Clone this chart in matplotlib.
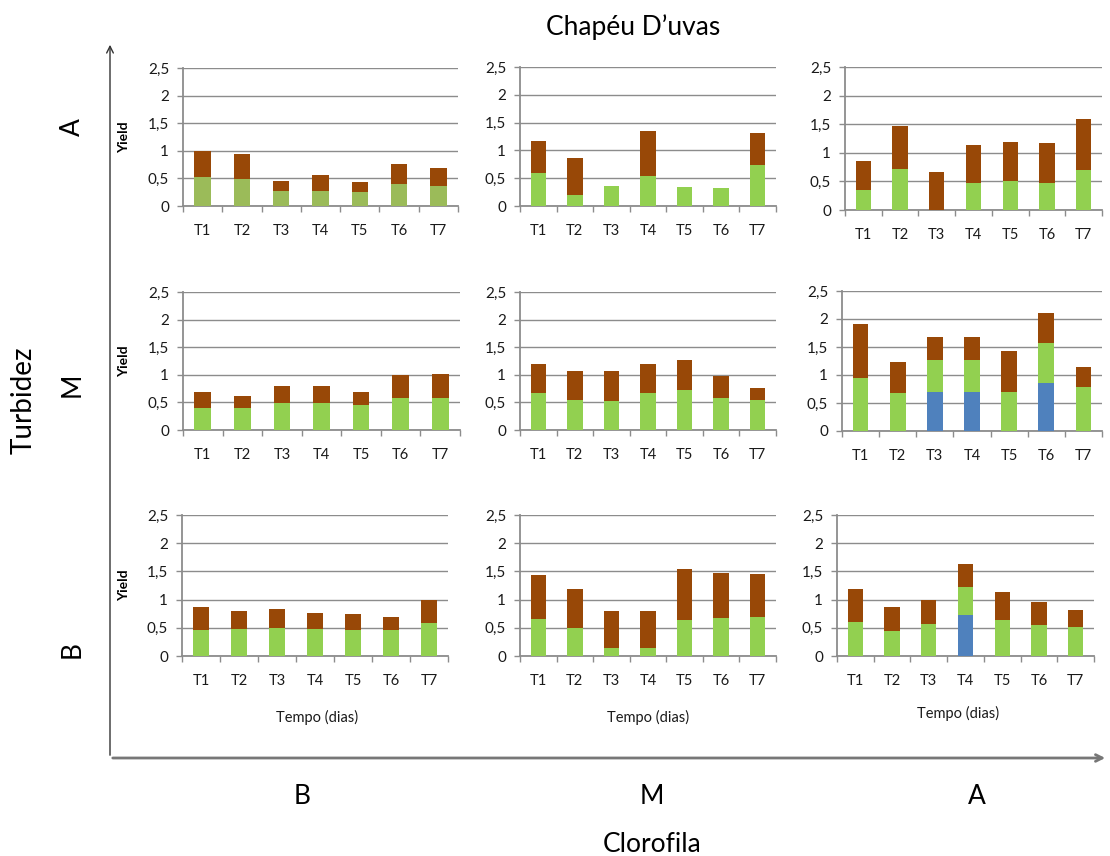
import matplotlib
matplotlib.use("Agg")
import matplotlib.pyplot as plt
import numpy as np

plt.rcParams['font.family'] = ['Lato', 'DejaVu Sans']

categories = ["T1", "T2", "T3", "T4", "T5", "T6", "T7"]
ytick_values = [0, 0.5, 1, 1.5, 2, 2.5]
ytick_labels = ["0", "0,5", "1", "1,5", "2", "2,5"]
row_labels = ["A", "M", "B"]        # Turbidez
col_labels = ["B", "M", "A"]        # Clorofila

# segment heights per panel: (row, col) -> blue, green, brown
# Row A (top)
blue_A_B = [0, 0, 0, 0, 0, 0, 0]
green_A_B = [0.53, 0.49, 0.27, 0.27, 0.25, 0.40, 0.37]
brown_A_B = [0.47, 0.45, 0.18, 0.29, 0.18, 0.36, 0.32]

blue_A_M = [0, 0, 0, 0, 0, 0, 0]
green_A_M = [0.60, 0.20, 0.36, 0.54, 0.34, 0.32, 0.74]
brown_A_M = [0.57, 0.66, 0.0, 0.81, 0.0, 0.0, 0.57]

blue_A_A = [0, 0, 0, 0, 0, 0, 0]
green_A_A = [0.35, 0.72, 0.0, 0.47, 0.51, 0.47, 0.70]
brown_A_A = [0.51, 0.75, 0.67, 0.67, 0.68, 0.70, 0.89]

# Row M (middle)
blue_M_B = [0, 0, 0, 0, 0, 0, 0]
green_M_B = [0.40, 0.40, 0.49, 0.49, 0.45, 0.58, 0.58]
brown_M_B = [0.28, 0.21, 0.30, 0.30, 0.23, 0.41, 0.43]

blue_M_M = [0, 0, 0, 0, 0, 0, 0]
green_M_M = [0.67, 0.54, 0.52, 0.67, 0.72, 0.58, 0.54]
brown_M_M = [0.52, 0.52, 0.54, 0.52, 0.54, 0.39, 0.22]

blue_M_A = [0, 0, 0.69, 0.69, 0, 0.85, 0]
green_M_A = [0.95, 0.67, 0.57, 0.57, 0.70, 0.73, 0.79]
brown_M_A = [0.96, 0.57, 0.41, 0.41, 0.73, 0.52, 0.36]

# Row B (bottom)
blue_B_B = [0, 0, 0, 0, 0, 0, 0]
green_B_B = [0.46, 0.48, 0.50, 0.48, 0.46, 0.46, 0.59]
brown_B_B = [0.415, 0.31, 0.34, 0.29, 0.29, 0.24, 0.41]

blue_B_M = [0, 0, 0, 0, 0, 0, 0]
green_B_M = [0.66, 0.50, 0.14, 0.14, 0.64, 0.68, 0.70]
brown_B_M = [0.77, 0.68, 0.66, 0.66, 0.90, 0.80, 0.76]

blue_B_A = [0, 0, 0, 0.73, 0, 0, 0]
green_B_A = [0.61, 0.45, 0.57, 0.50, 0.64, 0.55, 0.52]
brown_B_A = [0.57, 0.425, 0.43, 0.395, 0.50, 0.41, 0.30]

panels = [
    [(blue_A_B, green_A_B, brown_A_B), (blue_A_M, green_A_M, brown_A_M), (blue_A_A, green_A_A, brown_A_A)],
    [(blue_M_B, green_M_B, brown_M_B), (blue_M_M, green_M_M, brown_M_M), (blue_M_A, green_M_A, brown_M_A)],
    [(blue_B_B, green_B_B, brown_B_B), (blue_B_M, green_B_M, brown_B_M), (blue_B_A, green_B_A, brown_B_A)],
]

W, H = 1110, 856
fig = plt.figure(figsize=(W / 100, H / 100), dpi=100)

# pixel boxes (left, top, right, bottom) for each panel
boxes = [
    [(183, 68, 458, 206), (520, 67, 776, 206), (845, 67, 1102, 210)],
    [(183, 292, 460, 430), (520, 292, 776, 430), (842, 291, 1102, 431)],
    [(182, 515, 448, 656), (520, 515, 776, 656), (837, 515, 1094, 656)],
]

BLUE = "#4F81BD"
GREEN = "#92D050"
OLIVE = "#9BBB59"
BROWN = "#984807"
GRID = "#8C8C8C"

x = np.arange(len(categories))
for r in range(3):
    for c in range(3):
        l, t, rr, b = boxes[r][c]
        ax = fig.add_axes([l / W, 1 - b / H, (rr - l) / W, (b - t) / H])
        blue, green, brown = panels[r][c]
        blue = np.array(blue); green = np.array(green); brown = np.array(brown)
        gcol = OLIVE if (r == 0 and c == 0) else GREEN
        wd = 0.42
        ax.bar(x, blue, wd, color=BLUE, zorder=3)
        ax.bar(x, green, wd, bottom=blue, color=gcol, zorder=3)
        ax.bar(x, brown, wd, bottom=blue + green, color=BROWN, zorder=3)
        ax.set_xlim(-0.5, len(categories) - 0.5)
        ax.set_ylim(0, 2.5)
        ax.set_yticks(ytick_values)
        ax.set_yticklabels(ytick_labels, fontsize=11, color="#1a1a1a")
        ax.yaxis.grid(True, color=GRID, linewidth=1.0, zorder=0)
        ax.set_axisbelow(True)
        ax.set_xticks(np.arange(-0.5, len(categories), 1.0))
        ax.set_xticklabels([])
        ax.set_xticks(x, minor=True)
        ax.set_xticklabels(categories, minor=True, fontsize=10.5, color="#1a1a1a")
        ax.tick_params(axis="x", which="minor", length=0, pad=13)
        ax.tick_params(axis="x", which="major", length=4, color=GRID, width=1)
        ax.tick_params(axis="y", length=4, color=GRID, width=1, pad=6)
        for s in ["top", "right"]:
            ax.spines[s].set_visible(False)
        for s in ["left", "bottom"]:
            ax.spines[s].set_color(GRID)
            ax.spines[s].set_linewidth(1.3)
        if c == 0:
            fig.text(124 / W, 1 - ((t + b) / 2) / H, "Yield", rotation=90,
                     fontsize=10, fontweight="bold", ha="center", va="center")
        if r == 2:
            tx = [317, 648, 958][c]
            ty = [717, 717, 713][c]
            fig.text(tx / W, 1 - ty / H, "Tempo (dias)", fontsize=10.5,
                     ha="center", va="center", color="#1a1a1a")

# big framing axes with arrows
fig.add_artist(matplotlib.patches.FancyArrowPatch(
    (110 / W, 1 - 758 / H), (110 / W, 1 - 42 / H), transform=fig.transFigure,
    arrowstyle="->", mutation_scale=12, color="#333333", linewidth=1.0))
fig.add_artist(matplotlib.patches.FancyArrowPatch(
    (110 / W, 1 - 758 / H), (1108 / W, 1 - 758 / H), transform=fig.transFigure,
    arrowstyle="->", mutation_scale=12, color="#777777", linewidth=2.0))

fig.text(633 / W, 1 - 27 / H, "Chapéu D’uvas", fontsize=19, ha="center", va="center")
fig.text(24 / W, 1 - 400 / H, "Turbidez", fontsize=20, rotation=90, ha="center", va="center")
for lab, yy in zip(row_labels, [127, 385, 650]):
    fig.text(72 / W, 1 - yy / H, lab, fontsize=19, rotation=90, ha="center", va="center")
for lab, xx in zip(col_labels, [302, 652, 977]):
    fig.text(xx / W, 1 - 797 / H, lab, fontsize=19, ha="center", va="center")
fig.text(652 / W, 1 - 845 / H, "Clorofila", fontsize=19, ha="center", va="center")

fig.savefig("out.png", dpi=100, facecolor="white")
